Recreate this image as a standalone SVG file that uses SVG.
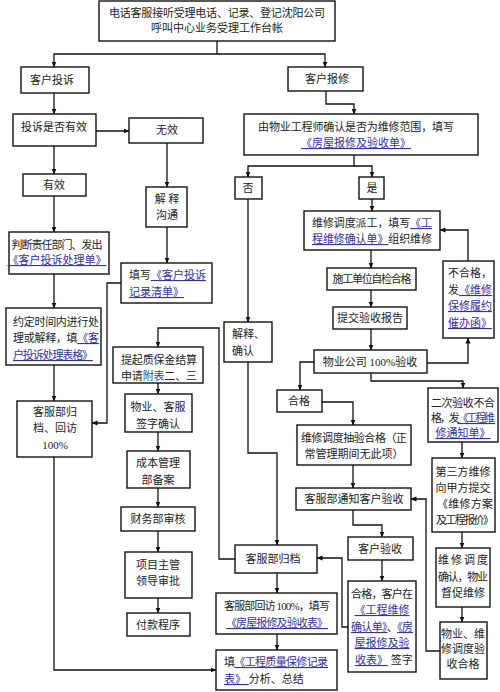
<svg xmlns="http://www.w3.org/2000/svg" width="500" height="692" viewBox="0 0 500 692">
<defs>
<marker id="ah" markerUnits="userSpaceOnUse" markerWidth="6" markerHeight="6" refX="5.5" refY="3" orient="auto">
<path d="M0,0.5 L6,3 L0,5.5 Z" fill="#111"/>
</marker>
<style>
.b{fill:#fff;stroke:#111;stroke-width:1.4}
.t{font-family:"Liberation Serif","Noto Sans CJK SC",serif;font-size:11px;fill:#222}
.m{text-anchor:middle}
.l{fill:#33339a;text-decoration:underline}
.k{fill:#3a3aa8}
.c path{fill:none;stroke:#111;stroke-width:1.3;marker-end:url(#ah)}
.c path.n{marker-end:none}
</style>
</defs>
<rect width="500" height="692" fill="#fff"/>

<g class="c" id="connectors">
<path class="n" d="M217,41 V54"/>
<path d="M217,54 H54 V67"/>
<path d="M217,54 H325 V67"/>
<path d="M54,93 V114"/>
<path d="M326,91 V104 H354 V114"/>
<path d="M96,131 H129"/>
<path d="M54,146 V174"/>
<path d="M167,143 V187"/>
<path d="M54,196 V232"/>
<path d="M167,227 V263"/>
<path d="M54,274 V308"/>
<path d="M54,365 V401"/>
<path d="M121,283 H107 V423 H92"/>
<path d="M54,457 V670 H216"/>
<path class="n" d="M354,155 V166"/>
<path d="M354,166 H248 V177"/>
<path d="M354,166 H372 V177"/>
<path d="M248,199 V322"/>
<path d="M372,199 V211"/>
<path d="M371,250 V268"/>
<path d="M371,290 V307"/>
<path d="M371,329 V350"/>
<path d="M314,362 H300 V390"/>
<path d="M427,363 H468 V338"/>
<path d="M468,261 V230 H440"/>
<path d="M371,373 V381 H463 V388"/>
<path d="M322,402 H353 V425"/>
<path d="M353,465 V488"/>
<path d="M353,510 V525 H382 V537"/>
<path d="M382,560 V581"/>
<path d="M348,627 H342 V558 H317"/>
<path d="M248,362 V453 H277 V545"/>
<path d="M235,559 H219 V328 H158 V347"/>
<path d="M158,383 V394"/>
<path d="M158,432 V451"/>
<path d="M158,488 V507"/>
<path d="M158,531 V552"/>
<path d="M158,598 V613"/>
<path d="M277,573 V593"/>
<path d="M277,634 V650"/>
<path d="M462,442 V458"/>
<path d="M462,532 V548"/>
<path d="M462,607 V622"/>
<path d="M440,651 H426 V499 H411"/>
</g>

<g id="n-title"><rect class="b" x="99" y="1" width="236" height="40"/>
<text class="t m" x="217" y="17" textLength="216">电话客服接听受理电话、记录、登记沈阳公司</text>
<text class="t m" x="217" y="32">呼叫中心业务受理工作台帐</text></g>

<g id="n-ts"><rect class="b" x="21" y="67" width="68" height="26"/>
<text class="t m" x="52" y="84">客户投诉</text></g>

<g id="n-bx"><rect class="b" x="288" y="67" width="75" height="24"/>
<text class="t m" x="327" y="83">客户报修</text></g>

<g id="n-yx"><rect class="b" x="13" y="114" width="83" height="32"/>
<text class="t m" x="54" y="131">投诉是否有效</text></g>

<g id="n-wx"><rect class="b" x="129" y="118" width="74" height="25"/>
<text class="t m" x="167" y="134">无效</text></g>

<g id="n-yx2"><rect class="b" x="23" y="174" width="63" height="22"/>
<text class="t m" x="54" y="189">有效</text></g>

<g id="n-jsgt"><rect class="b" x="146" y="187" width="41" height="40"/>
<text class="t m" x="167" y="203">解 释</text>
<text class="t m" x="167" y="219">沟通</text></g>

<g id="n-pd"><rect class="b" x="9" y="232" width="100" height="42"/>
<text class="t m" x="57" y="249" textLength="91">判断责任部门、发出</text>
<text class="t m" x="57" y="264"><tspan class="l">《客户投诉处理单》</tspan></text></g>

<g id="n-tx"><rect class="b" x="121" y="263" width="91" height="40"/>
<text class="t" x="129" y="279">填写<tspan class="l">《客户投诉</tspan></text>
<text class="t" x="129" y="296"><tspan class="l">记录清单》</tspan></text></g>

<g id="n-yd"><rect class="b" x="6" y="308" width="95" height="57"/>
<text class="t" x="13" y="326" textLength="86">约定时间内进行处</text>
<text class="t" x="13" y="342" textLength="86">理或解释，填<tspan class="l">《客</tspan></text>
<text class="t" x="13" y="359" textLength="80"><tspan class="l">户投诉处理表格》</tspan></text></g>

<g id="n-gd1"><rect class="b" x="17" y="401" width="75" height="56"/>
<text class="t m" x="55" y="416">客服部归</text>
<text class="t m" x="55" y="432">档、回访</text>
<text class="t m" x="55" y="449">100%</text></g>

<g id="n-gcs"><rect class="b" x="244" y="114" width="234" height="41"/>
<text class="t m" x="356" y="131" textLength="196">由物业工程师确认是否为维修范围，填写</text>
<text class="t m" x="356" y="147"><tspan class="l">《房屋报修及验收单》</tspan></text></g>

<g id="n-f"><rect class="b" x="235" y="177" width="27" height="22"/>
<text class="t m" x="248" y="192">否</text></g>

<g id="n-s"><rect class="b" x="359" y="177" width="25" height="22"/>
<text class="t m" x="372" y="192">是</text></g>

<g id="n-pg"><rect class="b" x="304" y="211" width="136" height="39"/>
<text class="t m" x="372" y="227" textLength="120">维修调度派工，填写<tspan class="l">《工</tspan></text>
<text class="t m" x="372" y="243" textLength="120"><tspan class="l">程维修确认单》</tspan>组织维修</text></g>

<g id="n-zj"><rect class="b" x="327" y="268" width="89" height="22"/>
<text class="t m" x="372" y="283" textLength="79">施工单位自检合格</text></g>

<g id="n-tj"><rect class="b" x="333" y="307" width="74" height="22"/>
<text class="t m" x="370" y="322">提交验收报告</text></g>

<g id="n-ys"><rect class="b" x="314" y="350" width="113" height="23"/>
<text class="t m" x="370" y="366">物业公司 100%验收</text></g>

<g id="n-bhg"><rect class="b" x="443" y="261" width="51" height="77"/>
<text class="t" x="448" y="277">不合格，</text>
<text class="t" x="448" y="294">发<tspan class="l">《维修</tspan></text>
<text class="t" x="448" y="310"><tspan class="l">保修履约</tspan></text>
<text class="t" x="448" y="327"><tspan class="l">催办函》</tspan></text></g>

<g id="n-hg"><rect class="b" x="277" y="390" width="45" height="22"/>
<text class="t m" x="299" y="405">合格</text></g>

<g id="n-ec"><rect class="b" x="428" y="388" width="70" height="54"/>
<text class="t m" x="463" y="407" textLength="64">二次验收不合</text>
<text class="t m" x="463" y="422" textLength="64">格，发<tspan class="l">《工程维</tspan></text>
<text class="t m" x="463" y="437"><tspan class="l">修通知单》</tspan></text></g>

<g id="n-cy"><rect class="b" x="297" y="425" width="114" height="40"/>
<text class="t m" x="354" y="442" textLength="106">维修调度抽验合格（正</text>
<text class="t m" x="354" y="458">常管理期间无此项）</text></g>

<g id="n-dsf"><rect class="b" x="432" y="458" width="63" height="74"/>
<text class="t m" x="463" y="476">第三方维修</text>
<text class="t m" x="463" y="492">向甲方提交</text>
<text class="t m" x="465" y="508" textLength="56">《维修方案</text>
<text class="t m" x="465" y="524" textLength="58">及工程报价》</text></g>

<g id="n-qr"><rect class="b" x="436" y="548" width="54" height="59"/>
<text class="t m" x="463" y="564" textLength="50">维 修 调 度</text>
<text class="t m" x="463" y="581" textLength="50">确认，物业</text>
<text class="t m" x="463" y="597">督促维修</text></g>

<g id="n-wyhg"><rect class="b" x="440" y="622" width="47" height="57"/>
<text class="t m" x="463" y="638">物业、维</text>
<text class="t m" x="463" y="653">修调度验</text>
<text class="t m" x="463" y="668">收合格</text></g>

<g id="n-tz"><rect class="b" x="296" y="488" width="115" height="22"/>
<text class="t m" x="354" y="503">客服部通知客户验收</text></g>

<g id="n-khys"><rect class="b" x="348" y="537" width="65" height="23"/>
<text class="t m" x="380" y="553">客户验收</text></g>

<g id="n-qz"><rect class="b" x="348" y="581" width="68" height="91"/>
<text class="t m" x="382" y="598" textLength="62">合格，客户在</text>
<text class="t m" x="382" y="614"><tspan class="l">《工程维修</tspan></text>
<text class="t m" x="382" y="631" textLength="62"><tspan class="l">确认单》</tspan>、<tspan class="l">《房</tspan></text>
<text class="t m" x="382" y="647"><tspan class="l">屋报修及验</tspan></text>
<text class="t" x="355" y="664"><tspan class="l">收表》</tspan> 签字</text></g>

<g id="n-jsqr"><rect class="b" x="224" y="322" width="48" height="40"/>
<text class="t" x="232" y="338">解释、</text>
<text class="t" x="232" y="355">确认</text></g>

<g id="n-gd2"><rect class="b" x="235" y="545" width="82" height="28"/>
<text class="t m" x="273" y="563">客服部归档</text></g>

<g id="n-hf"><rect class="b" x="216" y="593" width="121" height="41"/>
<text class="t m" x="277" y="610" textLength="106">客服部回访 100%，填写</text>
<text class="t m" x="277" y="627" textLength="102"><tspan class="l">《房屋报修及验收表》</tspan></text></g>

<g id="n-jl"><rect class="b" x="216" y="650" width="121" height="40"/>
<text class="t" x="224" y="666" textLength="104">填<tspan class="l">《工程质量保修记录</tspan></text>
<text class="t" x="224" y="683"><tspan class="l">表》 </tspan>分析、总结</text></g>

<g id="n-zbj"><rect class="b" x="113" y="347" width="90" height="36"/>
<text class="t m" x="159" y="364" textLength="76">提起质保金结算</text>
<text class="t m" x="159" y="380" textLength="76">申请<tspan class="k">附表</tspan>二、三</text></g>

<g id="n-qzqr"><rect class="b" x="125" y="394" width="67" height="38"/>
<text class="t m" x="158" y="411">物业、客服</text>
<text class="t m" x="158" y="428">签字确认</text></g>

<g id="n-cb"><rect class="b" x="127" y="451" width="63" height="37"/>
<text class="t m" x="158" y="467">成本管理</text>
<text class="t m" x="158" y="484">部备案</text></g>

<g id="n-cw"><rect class="b" x="121" y="507" width="74" height="24"/>
<text class="t m" x="158" y="523">财务部审核</text></g>

<g id="n-xm"><rect class="b" x="125" y="552" width="67" height="46"/>
<text class="t m" x="158" y="569">项目主管</text>
<text class="t m" x="158" y="585">领导审批</text></g>

<g id="n-fk"><rect class="b" x="127" y="613" width="63" height="23"/>
<text class="t m" x="158" y="629">付款程序</text></g>
</svg>
